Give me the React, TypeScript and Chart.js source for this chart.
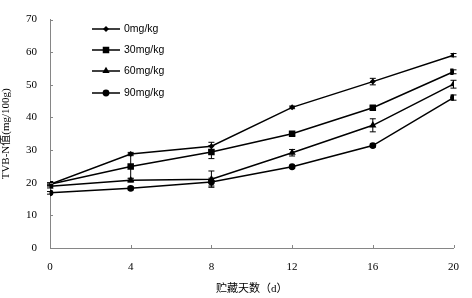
import React, { useEffect, useRef } from "react";
import { Chart, registerables } from "chart.js";

Chart.register(...registerables);

const days = [0, 4, 8, 12, 16, 20];
const xTicks = [0, 4, 8, 12, 16, 20];
const yTicks = [0, 10, 20, 30, 40, 50, 60, 70];
const seriesNames = ["0mg/kg", "30mg/kg", "60mg/kg", "90mg/kg"];
const s0 = [19.5, 28.8, 31.2, 43.1, 51.0, 59.1];
const s30 = [19.5, 25.0, 29.4, 35.0, 43.0, 54.0];
const s60 = [18.9, 20.8, 21.1, 29.2, 37.6, 50.2];
const s90 = [16.9, 18.3, 20.2, 24.9, 31.4, 46.1];
const e0 = [0.4, 0.5, 1.2, 0.4, 1.0, 0.5];
const e30 = [0.5, 3.8, 2.0, 0.5, 0.5, 0.6];
const e60 = [0.5, 0.6, 2.5, 1.0, 2.0, 1.2];
const e90 = [0.4, 0.5, 1.2, 0.4, 0.5, 0.8];
const xTitle = "贮藏天数（d）";
const yTitle = "TVB-N值(mg/100g)";

const values = [s0, s30, s60, s90];
const errors = [e0, e30, e60, e90];
const styles = ["rectRot", "rect", "triangle", "circle"];
const radii = [3, 4.6, 4.2, 3.4];

const serif = "'Liberation Serif', 'Noto Sans CJK SC', serif";

const errorBarPlugin = {
  id: "errorBars",
  afterDatasetsDraw(chart: any) {
    const ctx = chart.ctx;
    const xs = chart.scales.x;
    const ys = chart.scales.y;
    ctx.save();
    ctx.strokeStyle = "#000";
    ctx.lineWidth = 1;
    errors.forEach((errs, i) => {
      errs.forEach((e, j) => {
        const x = xs.getPixelForValue(days[j]);
        const yt = ys.getPixelForValue(values[i][j] + e);
        const yb = ys.getPixelForValue(values[i][j] - e);
        ctx.beginPath();
        ctx.moveTo(x, yt);
        ctx.lineTo(x, yb);
        ctx.moveTo(x - 3, yt);
        ctx.lineTo(x + 3, yt);
        ctx.moveTo(x - 3, yb);
        ctx.lineTo(x + 3, yb);
        ctx.stroke();
      });
    });
    ctx.restore();
  },
};

const tickPlugin = {
  id: "innerTicks",
  afterDraw(chart: any) {
    const ctx = chart.ctx;
    const xs = chart.scales.x;
    const ys = chart.scales.y;
    const { left, bottom } = chart.chartArea;
    ctx.save();
    ctx.strokeStyle = "#868686";
    ctx.lineWidth = 1;
    ctx.beginPath();
    yTicks.forEach((v) => {
      const y = Math.round(ys.getPixelForValue(v)) + 0.5;
      ctx.moveTo(left, y);
      ctx.lineTo(left + 3, y);
    });
    xTicks.forEach((v) => {
      const x = Math.round(xs.getPixelForValue(v)) + 0.5;
      ctx.moveTo(x, bottom);
      ctx.lineTo(x, bottom - 3);
    });
    ctx.stroke();
    ctx.restore();
  },
};

function drawMarker(ctx: CanvasRenderingContext2D, style: string, r: number, x: number, y: number) {
  ctx.beginPath();
  if (style === "rectRot") {
    ctx.moveTo(x, y - r);
    ctx.lineTo(x + r, y);
    ctx.lineTo(x, y + r);
    ctx.lineTo(x - r, y);
    ctx.closePath();
  } else if (style === "rect") {
    const s = Math.SQRT1_2 * r;
    ctx.rect(x - s, y - s, 2 * s, 2 * s);
  } else if (style === "triangle") {
    let a = 0;
    ctx.moveTo(x + Math.sin(a) * r, y - Math.cos(a) * r);
    a += (2 * Math.PI) / 3;
    ctx.lineTo(x + Math.sin(a) * r, y - Math.cos(a) * r);
    a += (2 * Math.PI) / 3;
    ctx.lineTo(x + Math.sin(a) * r, y - Math.cos(a) * r);
    ctx.closePath();
  } else {
    ctx.arc(x, y, r, 0, Math.PI * 2);
  }
  ctx.fill();
}

const legendPlugin = {
  id: "customLegend",
  afterDraw(chart: any) {
    const ctx = chart.ctx;
    const rows = [29, 50, 71, 93];
    ctx.save();
    seriesNames.forEach((name, i) => {
      const y = rows[i];
      ctx.strokeStyle = "#000";
      ctx.lineWidth = 1.5;
      ctx.beginPath();
      ctx.moveTo(92, y);
      ctx.lineTo(120, y);
      ctx.stroke();
      ctx.fillStyle = "#000";
      drawMarker(ctx, styles[i], radii[i], 106, y);
      ctx.font = "10.5px 'Liberation Sans', Arial, sans-serif";
      ctx.textAlign = "left";
      ctx.textBaseline = "middle";
      ctx.fillText(name, 124, y + 0.5);
    });
    ctx.restore();
  },
};

export default function App() {
  const ref = useRef<HTMLCanvasElement>(null);
  useEffect(() => {
    document.body.style.margin = "0";
    const canvas = ref.current!;
    const chart = new Chart(canvas, {
      type: "line",
      data: {
        datasets: seriesNames.map((name, i) => ({
          label: name,
          data: days.map((d, j) => ({ x: d, y: values[i][j] })),
          borderColor: "#000",
          backgroundColor: "#000",
          borderWidth: 1.5,
          pointStyle: styles[i] as any,
          pointRadius: radii[i],
          pointBorderWidth: 0,
          pointBackgroundColor: "#000",
          tension: 0,
        })),
      },
      options: {
        responsive: false,
        animation: false,
        layout: { padding: { left: 0, right: 8, top: 7, bottom: 0 } },
        plugins: { legend: { display: false }, tooltip: { enabled: false } },
        scales: {
          x: {
            type: "linear",
            min: 0,
            max: 20,
            afterBuildTicks: (s: any) => {
              s.ticks = xTicks.map((v) => ({ value: v }));
            },
            afterFit: (s: any) => {
              s.height = 50;
            },
            grid: { display: false, drawTicks: false },
            border: { display: true, color: "#868686", width: 1 },
            ticks: {
              color: "#000",
              font: { family: serif, size: 11 },
              padding: 13,
              maxRotation: 0,
            },
            title: {
              display: true,
              text: xTitle,
              color: "#000",
              font: { family: serif, size: 11 },
              padding: { top: 0, bottom: 2 },
            },
          },
          y: {
            type: "linear",
            min: 0,
            max: 70,
            afterBuildTicks: (s: any) => {
              s.ticks = yTicks.map((v) => ({ value: v }));
            },
            afterFit: (s: any) => {
              s.width = 50;
            },
            grid: { display: false, drawTicks: false },
            border: { display: true, color: "#868686", width: 1 },
            ticks: {
              color: "#000",
              font: { family: serif, size: 11 },
              padding: 13,
            },
            title: {
              display: true,
              text: yTitle,
              color: "#000",
              font: { family: serif, size: 11 },
              padding: { top: 0, bottom: 5 },
            },
          },
        },
      },
      plugins: [errorBarPlugin, tickPlugin, legendPlugin],
    });
    return () => chart.destroy();
  }, []);
  return <canvas ref={ref} width={472} height={298} style={{ display: "block" }} />;
}
